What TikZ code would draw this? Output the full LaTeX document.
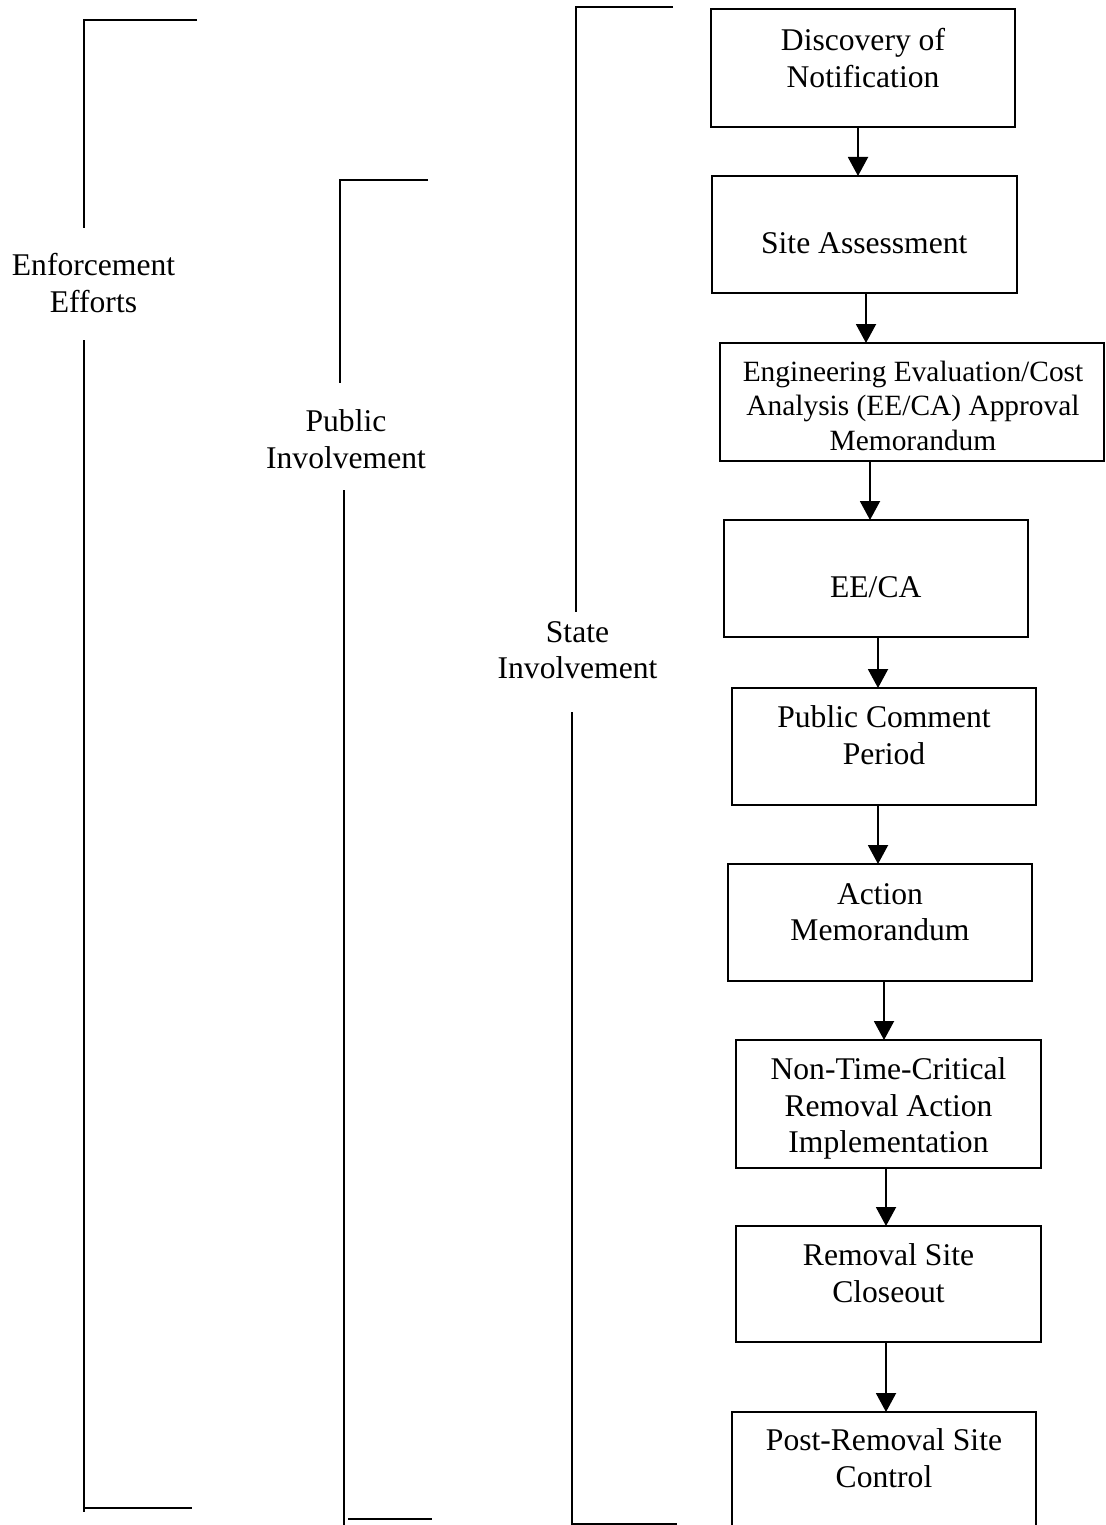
\documentclass[tikz,border=0pt]{standalone}
\usepackage{fontspec}
\setmainfont{Liberation Serif}
\usetikzlibrary{arrows.meta}
\begin{document}
\begin{tikzpicture}[x=1pt,y=-1pt,
  box/.style={draw, line width=2pt, inner sep=0pt, outer sep=0pt},
  lbl/.style={align=center, inner sep=0pt, font=\fontsize{31.6}{36.5}\selectfont},
  smalllbl/.style={align=center, inner sep=0pt, font=\fontsize{29.4}{34.5}\selectfont},
  rule/.style={line width=2pt},
  flow/.style={line width=2pt, -{Triangle[length=19pt,width=20pt]}}]
\useasboundingbox (0,0) rectangle (1105,1525);
\begin{scope}
\clip (0,0) rectangle (1105,1525);

% process boxes
\node[box, minimum width=304.5pt, minimum height=118pt] (b1) at (862.75,68) {};
\node[box, minimum width=304.5pt, minimum height=117pt] (b2) at (864.25,234.5) {};
\node[box, minimum width=384pt, minimum height=118pt] (b3) at (912,402) {};
\node[box, minimum width=304.5pt, minimum height=117pt] (b4) at (875.75,578.5) {};
\node[box, minimum width=304pt, minimum height=117pt] (b5) at (884,746.5) {};
\node[box, minimum width=304pt, minimum height=117pt] (b6) at (880,922.5) {};
\node[box, minimum width=305pt, minimum height=128pt] (b7) at (888.5,1104) {};
\node[box, minimum width=305pt, minimum height=116pt] (b8) at (888.5,1284) {};
\node[box, minimum width=304pt, minimum height=118pt] (b9) at (884,1471) {};

% box texts
\node[lbl] (t1) at (863,61.5) {Discovery of\strut\\Notification\strut};
\node[lbl] (t2) at (864.25,246) {Site Assessment\strut};
\node[smalllbl] (t3) at (913,409) {Engineering Evaluation/Cost\strut\\Analysis (EE/CA) Approval\strut\\Memorandum\strut};
\node[lbl] (t4) at (875.75,590) {EE/CA\strut};
\node[lbl] (t5) at (884,738.5) {Public Comment\strut\\Period\strut};
\node[lbl] (t6) at (880,915) {Action\strut\\Memorandum\strut};
\node[lbl] (t7) at (888.5,1109) {Non-Time-Critical\strut\\Removal Action\strut\\Implementation\strut};
\node[lbl] (t8) at (888.5,1276.5) {Removal Site\strut\\Closeout\strut};
\node[lbl] (t9) at (884,1461.5) {Post-Removal Site\strut\\Control\strut};

% flow arrows
\draw[flow] (b1.south -| 858,0) -- (b2.north -| 858,0);
\draw[flow] (b2.south -| 866,0) -- (b3.north -| 866,0);
\draw[flow] (b3.south -| 870,0) -- (b4.north -| 870,0);
\draw[flow] (b4.south -| 878,0) -- (b5.north -| 878,0);
\draw[flow] (b5.south -| 878,0) -- (b6.north -| 878,0);
\draw[flow] (b6.south -| 884,0) -- (b7.north -| 884,0);
\draw[flow] (b7.south -| 886,0) -- (b8.north -| 886,0);
\draw[flow] (b8.south -| 886,0) -- (b9.north -| 886,0);

% bracket labels
\node[lbl] (enf) at (93.5,286.5) {Enforcement\strut\\Efforts\strut};
\node[lbl] (pub) at (346,442.5) {Public\strut\\Involvement\strut};
\node[lbl] (sta) at (577.5,653) {State\strut\\Involvement\strut};

% enforcement bracket
\coordinate (eTopEnd) at (197,20);
\coordinate (eTop) at (83.5,20);
\coordinate (eUp) at (83.5,228);
\coordinate (eLow) at (84,340);
\coordinate (eBot) at (84,1512);
\coordinate (eFootA) at (84,1508);
\coordinate (eFootB) at (192,1508);
\draw[rule] (eTopEnd) -- (eTop) -- (eUp);
\draw[rule] (eLow) -- (eBot);
\draw[rule] (eFootA) -- (eFootB);

% public involvement bracket
\coordinate (pTopEnd) at (428,180);
\coordinate (pTop) at (340,180);
\coordinate (pUp) at (340,383);
\coordinate (pLow) at (343.7,490);
\coordinate (pBot) at (343.7,1526);
\coordinate (pFootA) at (348,1519);
\coordinate (pFootB) at (432,1519);
\draw[rule] (pTopEnd) -- (pTop) -- (pUp);
\draw[rule] (pLow) -- (pBot);
\draw[rule] (pFootA) -- (pFootB);

% state involvement bracket
\coordinate (sTopEnd) at (673,7.5);
\coordinate (sTop) at (575.7,7.5);
\coordinate (sUp) at (575.7,612);
\coordinate (sLow) at (571.7,712);
\coordinate (sBot) at (571.7,1523.5);
\coordinate (sFoot) at (677,1523.5);
\draw[rule] (sTopEnd) -- (sTop) -- (sUp);
\draw[rule] (sLow) -- (sBot) -- (sFoot);
\end{scope}
\end{tikzpicture}
\end{document}
